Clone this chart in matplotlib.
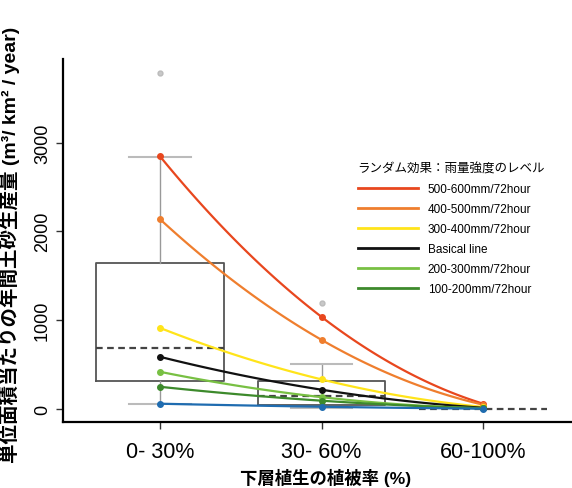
import numpy as np
import matplotlib.pyplot as plt
from matplotlib.lines import Line2D

plt.rcParams['font.family'] = ['Liberation Sans', 'Noto Sans CJK JP', 'DejaVu Sans']

categories = ["0- 30%", "30- 60%", "60-100%"]
xpos = [1, 2, 3]

# box summaries per cover class
box_q1 = [315, 45, 0]
box_med = [686, 146, 0]
box_q3 = [1642, 315, 0]
box_lo = [56, 10, 0]
box_hi = [2835, 506, 0]
box_fliers = [[3780], [1192], []]

# random-effect fitted values per rainfall level
series_labels = ["500-600mm/72hour", "400-500mm/72hour", "300-400mm/72hour",
                 "Basical line", "200-300mm/72hour", "100-200mm/72hour", None]
series_values = [
    [2846, 1035, 56],
    [2137, 776, 45],
    [911, 330, 20],
    [585, 214, 10],
    [416, 130, 5],
    [247, 90, 4],
    [56, 22, 0],
]
series_colors = ["#E8471E", "#EF7E2E", "#FFE41A", "#111111", "#78C043", "#3D8A2C", "#1F6CB0"]

fig = plt.figure(figsize=(5.72, 4.89), dpi=100)
ax = fig.add_axes([0.110, 0.135, 0.89, 0.742])

stats = []
for i in range(3):
    stats.append(dict(med=box_med[i], q1=box_q1[i], q3=box_q3[i],
                      whislo=box_lo[i], whishi=box_hi[i], fliers=box_fliers[i]))
bp = ax.bxp(stats, positions=xpos, widths=0.79, showfliers=True,
            boxprops=dict(color="#555555", linewidth=1.3),
            whiskerprops=dict(color="#999999", linewidth=1.0, linestyle="-"),
            capprops=dict(color="#BBBBBB", linewidth=1.5),
            capwidths=0.38,
            medianprops=dict(color="#444444", linewidth=1.6, linestyle=(0, (3, 2))),
            flierprops=dict(marker="o", markersize=3.5, markerfacecolor="#C8C8C8",
                            markeredgecolor="#BBBBBB"),
            zorder=1)
# the collapsed third box shows only its dashed median
bp["boxes"][2].set_visible(False)
for art in bp["whiskers"][4:6] + bp["caps"][4:6]:
    art.set_visible(False)

xs = np.array(xpos, dtype=float)
xfine = np.linspace(1, 3, 100)
for vals, col in zip(series_values, series_colors):
    coef = np.polyfit(xs, vals, 2)
    ax.plot(xfine, np.polyval(coef, xfine), color=col, linewidth=1.6, zorder=3)
    ax.plot(xs, vals, "o", color=col, markersize=4, zorder=4)

ax.set_xlim(0.40, 3.55)
ax.set_ylim(-150, 3940)
ax.set_xticks(xpos)
ax.set_xticklabels(categories, fontsize=15.5)
ax.set_yticks([0, 1000, 2000, 3000])
ax.set_yticklabels(["0", "1000", "2000", "3000"], rotation=90, va="center", fontsize=13)
ax.tick_params(axis="both", direction="out", length=5, width=1.0, color="#333333")
ax.tick_params(axis="x", pad=9)
for s in ["top", "right"]:
    ax.spines[s].set_visible(False)
for s in ["left", "bottom"]:
    ax.spines[s].set_linewidth(1.6)

ax.set_xlabel("下層植生の植被率 (%)", fontsize=12.5, fontweight="bold")
ax.xaxis.set_label_coords(0.515, -0.128)
ax.set_ylabel("単位面積当たりの年間土砂生産量 (m³/ km² / year)", fontsize=14,
              fontweight="bold")
ax.yaxis.set_label_coords(-0.085, 0.49)

handles = [Line2D([], [], color=c, linewidth=2) for c, l in zip(series_colors, series_labels) if l]
labels = [l for l in series_labels if l]
leg = ax.legend(handles, labels, title="ランダム効果：雨量強度のレベル",
                loc="upper left", bbox_to_anchor=(347 / 572, 1 - 153 / 489),
                bbox_transform=fig.transFigure, frameon=False, fontsize=8.5,
                title_fontsize=9, handlelength=5.1, handletextpad=0.85,
                labelspacing=0.68, alignment="left")

fig.savefig("out.png", dpi=100)
